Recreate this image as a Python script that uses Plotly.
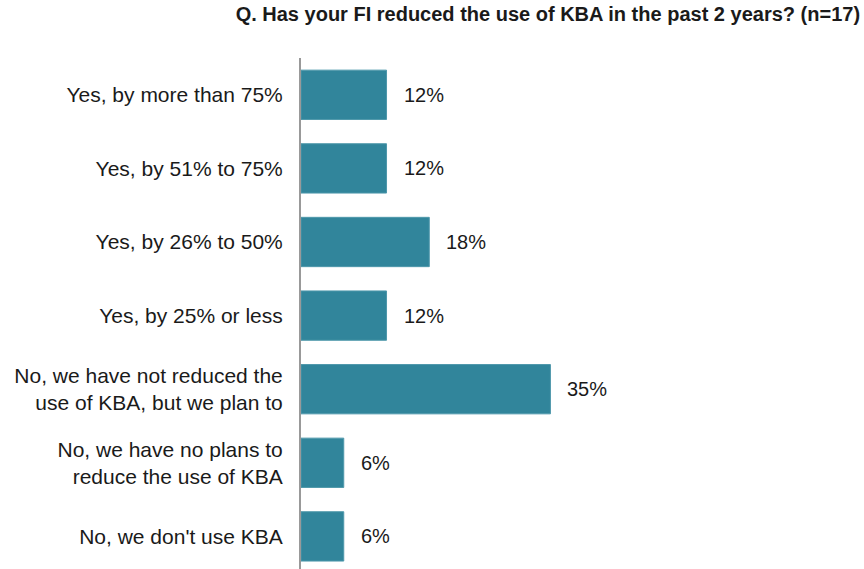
import plotly.graph_objects as go

# Survey responses (top to bottom) and their shares in percent
categories = [
    "Yes, by more than 75%",
    "Yes, by 51% to 75%",
    "Yes, by 26% to 50%",
    "Yes, by 25% or less",
    "No, we have not reduced the<br>use of KBA, but we plan to",
    "No, we have no plans to<br>reduce the use of KBA",
    "No, we don't use KBA",
]
shares = [12, 12, 18, 12, 35, 6, 6]
value_labels = [f"{v}%" for v in shares]

title_text = "Q. Has your FI reduced the use of KBA in the past 2 years? (n=17)"

BAR_COLOR = "#31859B"
FONT = "Liberation Sans, Arial, sans-serif"

fig = go.Figure(
    go.Bar(
        x=shares,
        y=categories,
        orientation="h",
        marker=dict(color=BAR_COLOR, line=dict(color="#4f98ab", width=1)),
        width=0.67,
        hoverinfo="skip",
    )
)

# Value labels placed to the right of each bar
for cat, val, lab in zip(categories, shares, value_labels):
    fig.add_annotation(
        x=val, y=cat, text=lab, showarrow=False,
        xanchor="left", yanchor="middle", xshift=15,
        font=dict(family=FONT, size=20, color="#1a1a1a"),
    )

fig.update_layout(
    width=864,
    height=569,
    margin=dict(l=301, r=0, t=58, b=0),
    paper_bgcolor="white",
    plot_bgcolor="white",
    showlegend=False,
    font=dict(family=FONT, size=20, color="#1a1a1a"),
    title=dict(
        text=f"<b>{title_text}</b>",
        x=0.993, xanchor="right", xref="paper",
        y=0.987, yanchor="top", yref="container",
        font=dict(family=FONT, size=20, color="#1a1a1a"),
    ),
    xaxis=dict(
        range=[0, 79], visible=False, showgrid=False, zeroline=False, fixedrange=True,
    ),
    yaxis=dict(
        categoryorder="array",
        categoryarray=categories[::-1],
        range=[-0.443, 6.5],
        showgrid=False,
        zeroline=False,
        showline=True,
        linecolor="#999999",
        linewidth=2,
        ticks="",
        ticklabelstandoff=12,
        tickfont=dict(family=FONT, size=21, color="#1a1a1a"),
    ),
)

fig.write_html("out.html")
